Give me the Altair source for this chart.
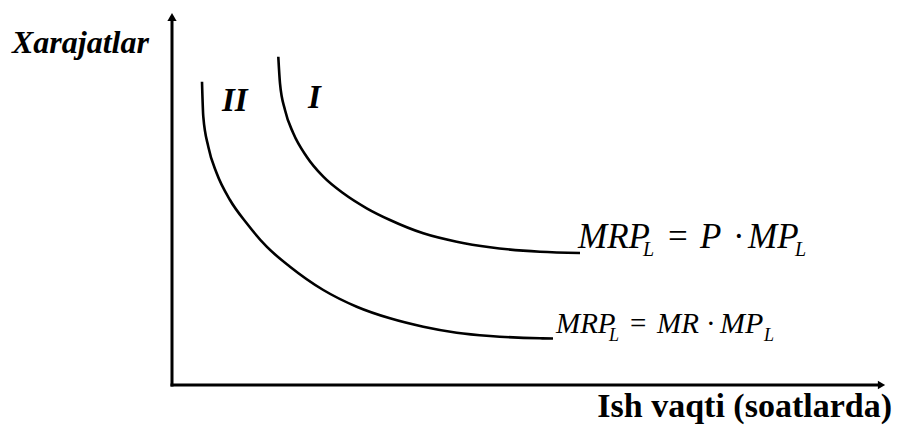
import altair as alt
import pandas as pd

# Units: 1 unit = 10 px; origin at the axes corner
# Curve I (MRP_L = P * MP_L)
c1_x = [10.63, 10.8, 11.3, 12.13, 13.47, 15.13, 17.13, 19.47, 21.8, 25.13, 28.47, 31.8, 36.8, 40.8]
c1_y = [32.83, 30.17, 27.5, 25.17, 22.83, 20.83, 19.17, 17.67, 16.5, 15.17, 14.33, 13.77, 13.33, 13.2]
# Curve II (MRP_L = MR * MP_L)
c2_x = [3.0, 3.13, 3.63, 4.47, 5.8, 7.47, 9.47, 11.8, 15.13, 18.47, 21.8, 25.13, 28.47, 31.8, 36.8, 38.1]
c2_y = [30.33, 26.83, 23.83, 21.17, 18.5, 16.17, 13.83, 11.83, 9.5, 7.83, 6.67, 5.83, 5.23, 4.9, 4.67, 4.65]

# Axis lines and arrowheads
axis_x = [-0.15, 0.0]
axis_x2 = [70.6, 0.0]
axis_y = [0.0, -0.15]
axis_y2 = [0.0, 36.5]
arrow_up = (0.0, 36.8)
arrow_right = (70.95, 0.0)

# Labels
bi_text = ["Xarajatlar", "II", "I"]
bi_x = [-16.0, 5.0, 13.6]
bi_y = [33.2, 27.4, 27.7]
bi_size = [32, 33, 33]

b_text = ["Ish vaqti (soatlarda)"]
b_x = [72.0]
b_y = [-3.2]
b_size = [34]

it_text = ["MRP", "L", "P", "MP", "L", "MRP", "L", "MR", "MP", "L"]
it_x = [40.6, 47.1, 52.8, 57.6, 62.3, 38.4, 43.7, 48.5, 54.8, 59.2]
it_y = [13.7, 12.9, 13.7, 13.7, 12.9, 5.2, 4.4, 5.2, 5.2, 4.4]
it_size = [35, 20, 35, 35, 20, 29, 18, 29, 30, 18]

up_text = ["=", "·", "=", "·"]
up_x = [49.6, 56.1, 45.8, 53.4]
up_y = [13.7, 13.7, 5.2, 5.2]
up_size = [35, 35, 29, 29]

FONT = "Liberation Serif"
xs = alt.Scale(domain=[-16.4, 72.1], nice=False, zero=False)
ys = alt.Scale(domain=[-4.1, 37.7], nice=False, zero=False)

curves = pd.DataFrame({
    "x": c1_x + c2_x,
    "y": c1_y + c2_y,
    "curve": ["I"] * len(c1_x) + ["II"] * len(c2_x),
    "o": list(range(len(c1_x))) + list(range(len(c2_x))),
})
axes_df = pd.DataFrame({"x": axis_x, "x2": axis_x2, "y": axis_y, "y2": axis_y2})

line_layer = alt.Chart(curves).mark_line(
    color="black", strokeWidth=2.6, interpolate="monotone"
).encode(
    x=alt.X("x:Q", scale=xs, axis=None),
    y=alt.Y("y:Q", scale=ys, axis=None),
    detail="curve:N",
    order="o:Q",
)

axis_layer = alt.Chart(axes_df).mark_rule(color="black", strokeWidth=3).encode(
    x=alt.X("x:Q", scale=xs, axis=None),
    x2="x2:Q",
    y=alt.Y("y:Q", scale=ys, axis=None),
    y2="y2:Q",
)

up_df = pd.DataFrame({"x": [arrow_up[0]], "y": [arrow_up[1]]})
right_df = pd.DataFrame({"x": [arrow_right[0]], "y": [arrow_right[1]]})
arrow_up_layer = alt.Chart(up_df).mark_point(
    shape="triangle-up", filled=True, color="black", size=85, opacity=1
).encode(x=alt.X("x:Q", scale=xs, axis=None), y=alt.Y("y:Q", scale=ys, axis=None))
arrow_right_layer = alt.Chart(right_df).mark_point(
    shape="triangle-right", filled=True, color="black", size=70, opacity=1
).encode(x=alt.X("x:Q", scale=xs, axis=None), y=alt.Y("y:Q", scale=ys, axis=None))


def text_layer(texts, xv, yv, sizes, style, weight, align="left"):
    df = pd.DataFrame({"t": texts, "x": xv, "y": yv, "s": sizes})
    return alt.Chart(df).mark_text(
        align=align, baseline="alphabetic", font=FONT,
        fontStyle=style, fontWeight=weight, color="black"
    ).encode(
        x=alt.X("x:Q", scale=xs, axis=None),
        y=alt.Y("y:Q", scale=ys, axis=None),
        text="t:N",
        size=alt.Size("s:Q", scale=None, legend=None),
    )


chart = alt.layer(
    axis_layer,
    arrow_up_layer,
    arrow_right_layer,
    line_layer,
    text_layer(bi_text, bi_x, bi_y, bi_size, "italic", "bold"),
    text_layer(b_text, b_x, b_y, b_size, "normal", "bold", align="right"),
    text_layer(it_text, it_x, it_y, it_size, "italic", "normal"),
    text_layer(up_text, up_x, up_y, up_size, "normal", "normal"),
).properties(
    width=885, height=418,
    autosize=alt.AutoSizeParams(type="none"),
    padding=0,
    background="white",
).configure_view(stroke=None)

chart.save("out.html", embed_options={"renderer": "svg", "actions": False})
